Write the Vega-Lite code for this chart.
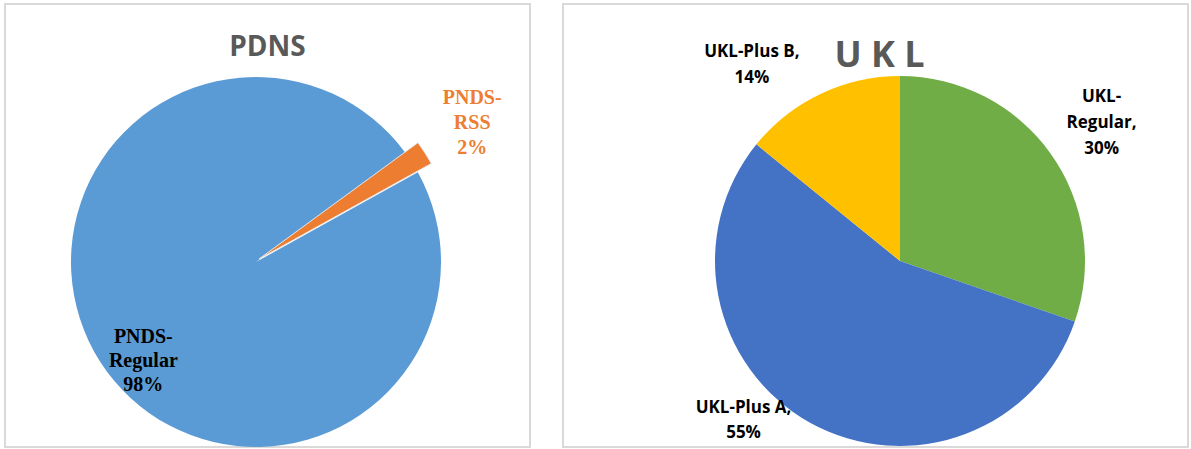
{
  "$schema": "https://vega.github.io/schema/vega-lite/v6.json",
  "background": "#ffffff",
  "padding": {"left": 4, "top": 3, "right": 0, "bottom": 0},
  "spacing": 31,
  "config": {
    "view": {"stroke": "#d9d9d9", "strokeWidth": 2},
    "title": {"color": "#595959", "font": "Open Sans", "fontWeight": "bold", "anchor": "middle"}
  },
  "resolve": {"scale": {"color": "independent", "theta": "independent"}},
  "hconcat": [
    {
      "width": 525,
      "height": 443,
      "view": {"stroke": "#d9d9d9", "strokeWidth": 2, "fill": "#ffffff"},
      "title": {"text": "PDNS", "fontSize": 28, "offset": -53, "dy": 27, "baseline": "alphabetic"},
      "data": {"values": [
        {"cat": "PNDS-RSS", "value": 2, "i": 1, "label": "PNDS-\nRSS\n2%"},
        {"cat": "PNDS-Regular", "value": 98, "i": 2, "label": "PNDS-\nRegular\n98%"}
      ]},
      "layer": [
        {
          "mark": {"type": "arc", "outerRadius": 185, "x": 251, "y": 258},
          "encoding": {
            "theta": {"field": "value", "type": "quantitative", "stack": true, "scale": {"domain": [0, 100], "range": [0.939, 7.2222]}},
            "order": {"field": "i", "type": "quantitative"},
            "color": {"field": "cat", "type": "nominal", "legend": null, "scale": {"domain": ["PNDS-RSS", "PNDS-Regular"], "range": ["#ED7D31", "#5B9BD5"]}},
            "fillOpacity": {"condition": {"test": "datum.cat === 'PNDS-RSS'", "value": 0}, "value": 1}
          }
        },
        {
          "mark": {"type": "arc", "outerRadius": 197, "x": 254, "y": 255, "stroke": "#e6e6e6", "strokeWidth": 1},
          "encoding": {
            "theta": {"field": "value", "type": "quantitative", "stack": true, "scale": {"domain": [0, 100], "range": [0.939, 7.2222]}},
            "order": {"field": "i", "type": "quantitative"},
            "color": {"field": "cat", "type": "nominal", "legend": null, "scale": {"domain": ["PNDS-RSS", "PNDS-Regular"], "range": ["#ED7D31", "#5B9BD5"]}},
            "opacity": {"condition": {"test": "datum.cat === 'PNDS-RSS'", "value": 1}, "value": 0}
          }
        },
        {
          "mark": {"type": "text", "x": 251, "y": 258, "radius": 148, "dx": 12, "dy": -5, "font": "Liberation Serif", "fontWeight": "bold", "fontSize": 20, "lineHeight": 24, "lineBreak": "\n", "align": "center", "baseline": "middle", "color": "#000000"},
          "encoding": {
            "theta": {"field": "value", "type": "quantitative", "stack": true, "scale": {"domain": [0, 100], "range": [0.939, 7.2222]}},
            "order": {"field": "i", "type": "quantitative"},
            "text": {"condition": {"test": "datum.cat === 'PNDS-Regular'", "field": "label"}, "value": ""}
          }
        },
        {
          "mark": {"type": "text", "x": 251, "y": 258, "radius": 259, "dx": -2, "dy": -24, "font": "Liberation Serif", "fontWeight": "bold", "fontSize": 20, "lineHeight": 25, "lineBreak": "\n", "align": "center", "baseline": "middle", "color": "#ED7D31"},
          "encoding": {
            "theta": {"field": "value", "type": "quantitative", "stack": true, "scale": {"domain": [0, 100], "range": [0.939, 7.2222]}},
            "order": {"field": "i", "type": "quantitative"},
            "text": {"condition": {"test": "datum.cat === 'PNDS-RSS'", "field": "label"}, "value": ""}
          }
        }
      ]
    },
    {
      "width": 625,
      "height": 443,
      "view": {"stroke": "#d9d9d9", "strokeWidth": 2, "fill": "#ffffff"},
      "title": {"text": "U K L", "fontSize": 36, "offset": -61, "dy": 38, "baseline": "alphabetic", "dx": 4},
      "data": {"values": [
        {"cat": "UKL-Regular", "value": 30, "i": 1, "label": "UKL-\nRegular,\n30%"},
        {"cat": "UKL-Plus A", "value": 55, "i": 2, "label": "UKL-Plus A,\n55%"},
        {"cat": "UKL-Plus B", "value": 14, "i": 3, "label": "UKL-Plus B,\n14%"}
      ]},
      "layer": [
        {
          "mark": {"type": "arc", "outerRadius": 185, "x": 337, "y": 257},
          "encoding": {
            "theta": {"field": "value", "type": "quantitative", "stack": true, "scale": {"domain": [0, 99], "range": [0, 6.2832]}},
            "order": {"field": "i", "type": "quantitative"},
            "color": {"field": "cat", "type": "nominal", "legend": null, "scale": {"domain": ["UKL-Regular", "UKL-Plus A", "UKL-Plus B"], "range": ["#70AD47", "#4472C4", "#FFC000"]}}
          }
        },
        {
          "mark": {"type": "text", "x": 337, "y": 257, "radius": 245, "dx": 2, "dy": -22, "font": "Open Sans", "fontWeight": "bold", "fontSize": 17, "lineHeight": 26, "lineBreak": "\n", "align": "center", "baseline": "middle", "color": "#000000"},
          "encoding": {
            "theta": {"field": "value", "type": "quantitative", "stack": true, "scale": {"domain": [0, 99], "range": [0, 6.2832]}},
            "order": {"field": "i", "type": "quantitative"},
            "text": {"condition": {"test": "datum.cat === 'UKL-Regular'", "field": "label"}, "value": ""}
          }
        },
        {
          "mark": {"type": "text", "x": 337, "y": 257, "radius": 221, "dx": -49, "dy": -46, "font": "Open Sans", "fontWeight": "bold", "fontSize": 17, "lineHeight": 25, "lineBreak": "\n", "align": "center", "baseline": "middle", "color": "#000000"},
          "encoding": {
            "theta": {"field": "value", "type": "quantitative", "stack": true, "scale": {"domain": [0, 99], "range": [0, 6.2832]}},
            "order": {"field": "i", "type": "quantitative"},
            "text": {"condition": {"test": "datum.cat === 'UKL-Plus A'", "field": "label"}, "value": ""}
          }
        },
        {
          "mark": {"type": "text", "x": 337, "y": 257, "radius": 247, "dx": -42, "dy": 14, "font": "Open Sans", "fontWeight": "bold", "fontSize": 17, "lineHeight": 26, "lineBreak": "\n", "align": "center", "baseline": "middle", "color": "#000000"},
          "encoding": {
            "theta": {"field": "value", "type": "quantitative", "stack": true, "scale": {"domain": [0, 99], "range": [0, 6.2832]}},
            "order": {"field": "i", "type": "quantitative"},
            "text": {"condition": {"test": "datum.cat === 'UKL-Plus B'", "field": "label"}, "value": ""}
          }
        }
      ]
    }
  ]
}
